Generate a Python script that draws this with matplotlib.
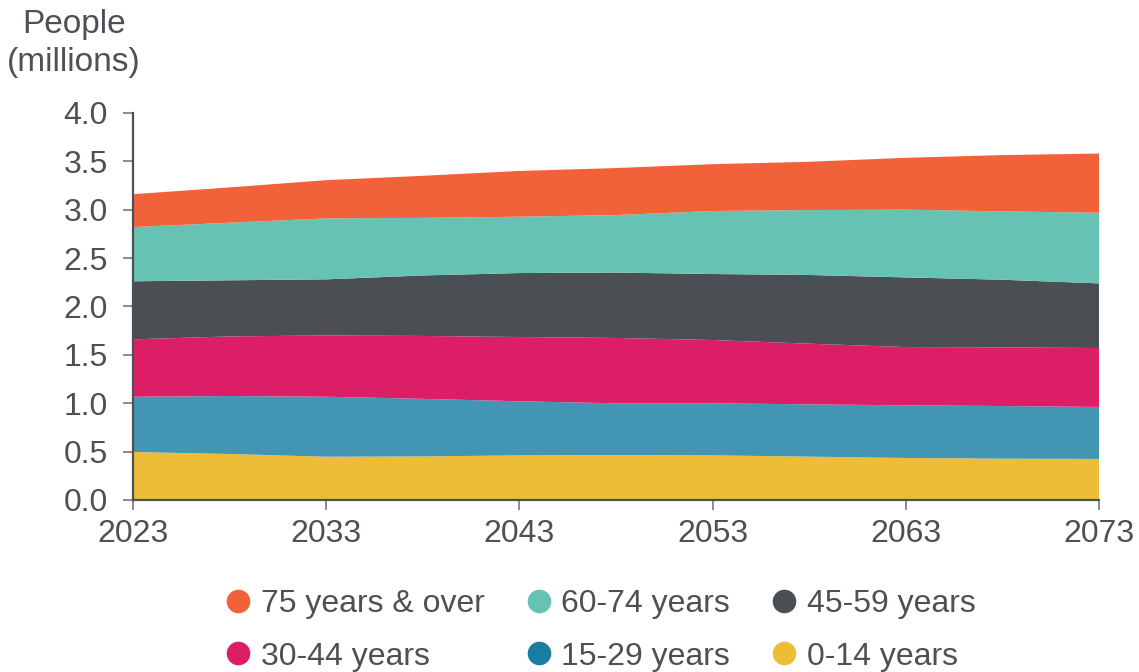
import matplotlib.pyplot as plt
from matplotlib.lines import Line2D

plt.rcParams['font.family'] = ['Liberation Sans', 'DejaVu Sans']

# 数据: 每 5 年读取一次 (单位: 百万人)
years = [2023, 2028, 2033, 2038, 2043, 2048, 2053, 2058, 2063, 2068, 2073]
age_0_14 = [0.496, 0.475, 0.447, 0.450, 0.461, 0.465, 0.461, 0.448, 0.434, 0.427, 0.424]
age_15_29 = [0.571, 0.599, 0.620, 0.595, 0.559, 0.534, 0.538, 0.540, 0.544, 0.544, 0.537]
age_30_44 = [0.593, 0.616, 0.633, 0.650, 0.664, 0.675, 0.654, 0.627, 0.602, 0.606, 0.609]
age_45_59 = [0.600, 0.580, 0.580, 0.625, 0.661, 0.676, 0.682, 0.710, 0.720, 0.699, 0.668]
age_60_74 = [0.560, 0.595, 0.630, 0.595, 0.582, 0.594, 0.651, 0.671, 0.700, 0.706, 0.730]
age_75_up = [0.340, 0.365, 0.395, 0.435, 0.473, 0.486, 0.484, 0.499, 0.536, 0.582, 0.612]

labels = ['0-14 years', '15-29 years', '30-44 years',
          '45-59 years', '60-74 years', '75 years & over']
fill_colors = ['#eebd37', '#4296b4', '#dc1e67', '#4b4f53', '#66c2b3', '#f2623a']
dot_colors = ['#eebd37', '#177da1', '#dc1e67', '#4b4f53', '#66c2b3', '#f2623a']

text_color = '#4d5055'

fig = plt.figure(figsize=(11.39, 6.72), dpi=100)
ax = fig.add_axes([0.1168, 0.256, 0.8481, 0.576])

ax.stackplot(years, age_0_14, age_15_29, age_30_44, age_45_59, age_60_74, age_75_up,
             colors=fill_colors, linewidth=0)

ax.set_xlim(2023, 2073)
ax.set_ylim(0, 4.0)
ax.set_xticks([2023, 2033, 2043, 2053, 2063, 2073])
ax.set_yticks([0, 0.5, 1.0, 1.5, 2.0, 2.5, 3.0, 3.5, 4.0])
ax.set_yticklabels([f'{v:.1f}' for v in ax.get_yticks()])

for s in ['top', 'right']:
    ax.spines[s].set_visible(False)
for s in ['left', 'bottom']:
    ax.spines[s].set_color(text_color)
    ax.spines[s].set_linewidth(1.6)

ax.tick_params(axis='both', colors='#6b6e72', labelcolor=text_color,
               labelsize=23, length=7, width=1.1, direction='out')
ax.tick_params(axis='y', pad=11)
ax.tick_params(axis='x', pad=7)

fig.text(0.0650, 0.935, 'People\n(millions)', ha='center', va='center',
         fontsize=24, color=text_color, linespacing=1.3)

# 图例: 第一行 75+, 60-74, 45-59; 第二行 30-44, 15-29, 0-14
order = [5, 2, 4, 1, 3, 0]
handles = [Line2D([], [], marker='o', linestyle='', markersize=17,
                  markerfacecolor=dot_colors[i], markeredgecolor='none')
           for i in order]
leg = fig.legend(handles, [labels[i] for i in order], ncol=3,
                 loc='center', bbox_to_anchor=(0.523, 0.062),
                 frameon=False, fontsize=23, handletextpad=0.0,
                 columnspacing=1.0, labelspacing=0.7, handlelength=1.4)
for t in leg.get_texts():
    t.set_color(text_color)

fig.savefig('out.png', dpi=100)
